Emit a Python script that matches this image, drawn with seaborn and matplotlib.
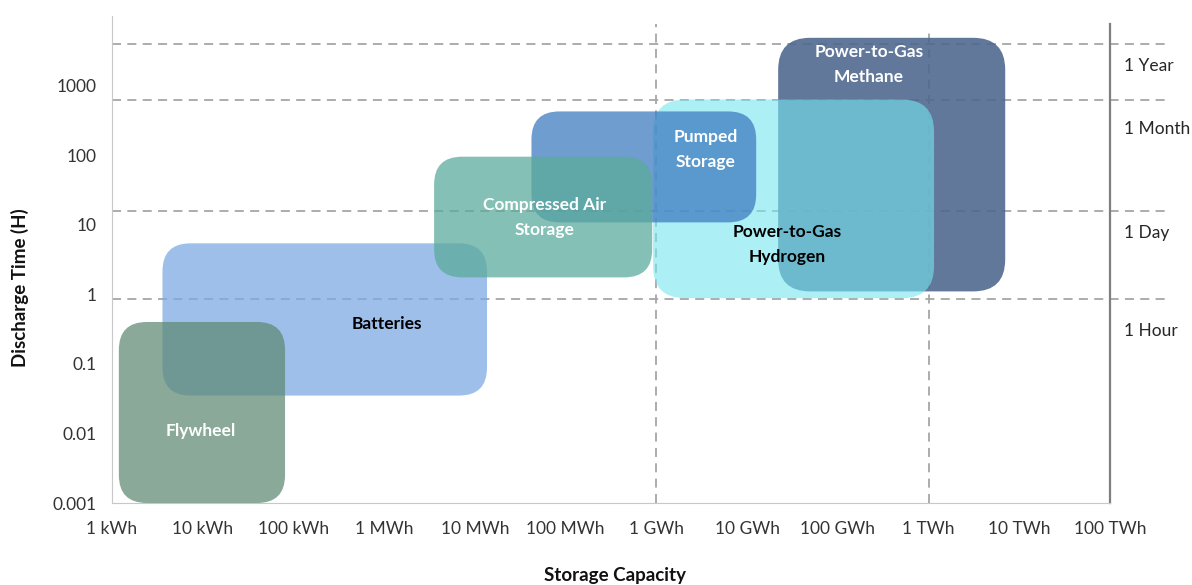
import numpy as np
import matplotlib
matplotlib.use("Agg")
import matplotlib.pyplot as plt
import seaborn as sns
from matplotlib.patches import FancyBboxPatch

# Storage technologies: capacity range (kWh) and discharge time range (h)
techs = ["Power-to-Gas\nMethane", "Power-to-Gas\nHydrogen", "Pumped\nStorage",
         "Batteries", "Compressed Air\nStorage", "Flywheel"]
cap_min = [2.2e7, 9.2e5, 4.2e4, 3.6, 3.55e3, 1.19]
cap_max = [7.0e9, 1.15e9, 1.26e7, 1.36e4, 9.0e5, 80.8]
time_min = [1.1, 0.88, 10.8, 0.035, 1.75, 0.001]
time_max = [4860, 630, 425, 5.4, 95, 0.4]
label_x = [2.2e8, 2.8e7, 3.5e6, 1070, 5.9e4, 9.6]
label_y = [2000, 5.2, 120, 0.38, 12.7, 0.0108]

colors = ["#50698f", "#76e6f0", "#3f7cc0", "#7caae3", "#5bab9c", "#5e8872"]
alphas = [0.9, 0.6, 0.75, 0.75, 0.75, 0.72]
text_colors = ["white", "black", "white", "black", "white", "white"]

x_ticks = [1, 1e1, 1e2, 1e3, 1e4, 1e5, 1e6, 1e7, 1e8, 1e9, 1e10, 1e11]
x_labels = ["1 kWh", "10 kWh", "100 kWh", "1 MWh", "10 MWh", "100 MWh",
            "1 GWh", "10 GWh", "100 GWh", "1 TWh", "10 TWh", "100 TWh"]
y_ticks = [0.001, 0.01, 0.1, 1, 10, 100, 1000]
y_labels = ["0.001", "0.01", "0.1", "1", "10", "100", "1000"]

# reference durations
ref_names = ["1 Year", "1 Month", "1 Day", "1 Hour"]
ref_lines = [3900, 630, 16, 0.85]
ref_text_y = [1940, 234, 7.7, 0.295]
v_lines = [1e6, 1e9]

sns.set_style("white")
plt.rcParams["font.family"] = ["Lato", "DejaVu Sans"]

W, H = 1192, 585
fig = plt.figure(figsize=(W / 100, H / 100), dpi=100)
ax = fig.add_axes([112 / W, 1 - 503 / H, (1110 - 112) / W, (503 - 16) / H])
ax.set_xscale("log")
ax.set_yscale("log")
ax.set_xlim(1, 1e11)
ax.set_ylim(1e-3, 1e4)

grid_kw = dict(color="#a6a6a6", linewidth=1.3, linestyles=(0, (5, 3.5)), zorder=1)
ax.hlines(ref_lines, 1, 4.7e11, clip_on=False, **grid_kw)
ax.vlines(v_lines[0], 1e-3, 7600, clip_on=False, **grid_kw)
ax.vlines(v_lines[1], 1e-3, 6300, clip_on=False, **grid_kw)

for name, y in zip(ref_names, ref_text_y):
    ax.text(1.44e11, y, name, fontsize=12.5, color="#262626", ha="left",
            va="center", clip_on=False)

# rounded boxes, drawn in pixel space from data coordinates
fig.canvas.draw()
radius = 28
for i in range(len(techs)):
    (px0, py0) = ax.transData.transform((cap_min[i], time_min[i]))
    (px1, py1) = ax.transData.transform((cap_max[i], time_max[i]))
    r = 32 if i < 2 else radius
    box = FancyBboxPatch((px0, py0), px1 - px0, py1 - py0,
                         boxstyle=f"round,pad=0,rounding_size={r}",
                         transform=None, facecolor=colors[i], alpha=alphas[i],
                         edgecolor="none", zorder=2 + i)
    fig.patches.append(box)
    box.set_figure(fig)

for i in range(len(techs)):
    fig.text(*fig.transFigure.inverted().transform(
                 ax.transData.transform((label_x[i], label_y[i]))),
             techs[i], color=text_colors[i], fontsize=12.5, fontweight="bold",
             ha="center", va="center", linespacing=1.65, zorder=20)

ax.set_xticks(x_ticks)
ax.set_xticklabels(x_labels)
ax.set_yticks(y_ticks)
ax.set_yticklabels(y_labels)
ax.minorticks_off()
ax.tick_params(axis="both", which="major", length=5, width=1, color="#bfbfbf",
               labelsize=12.5, labelcolor="#333333", direction="out")
ax.tick_params(axis="x", pad=8)
ax.tick_params(axis="y", pad=6)

ax.spines["top"].set_visible(False)
ax.spines["left"].set_color("#c8c8c8")
ax.spines["bottom"].set_color("#c8c8c8")
ax.spines["right"].set_color("#7f7f7f")
ax.spines["right"].set_linewidth(1.6)
ax.spines["right"].set_bounds(1e-3, 7600)
ax.patch.set_alpha(0)

fig.text(20 / W, 1 - 288 / H, "Discharge Time (H)", rotation=90,
         fontsize=13.5, fontweight="bold", ha="center", va="center", color="#111111")
fig.text(615 / W, 1 - 575 / H, "Storage Capacity", fontsize=13.5,
         fontweight="bold", ha="center", va="center", color="#111111")

fig.savefig("out.png", dpi=100)
